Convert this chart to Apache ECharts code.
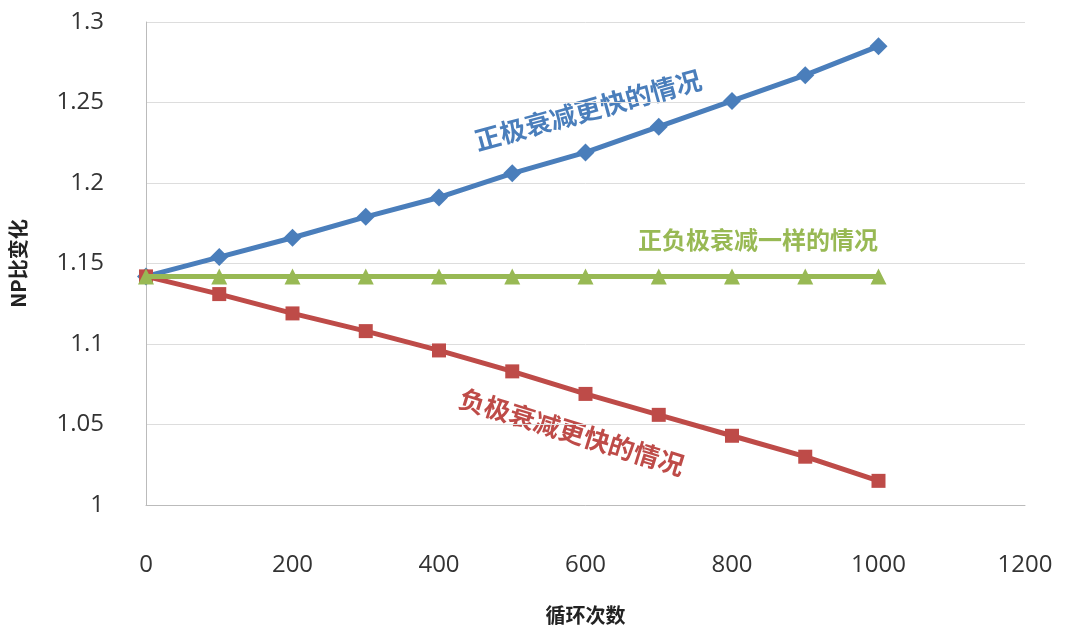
<!DOCTYPE html>
<html><head><meta charset="utf-8">
<script src="https://cdn.jsdelivr.net/npm/echarts@6/dist/echarts.min.js"></script>
<style>html,body{margin:0;background:#fff}#c{width:1080px;height:637px}</style>
</head><body><div id="c"></div>
<script>
var cycles = [0, 100, 200, 300, 400, 500, 600, 700, 800, 900, 1000];
var positiveFaster = [1.142, 1.154, 1.166, 1.179, 1.191, 1.206, 1.219, 1.235, 1.251, 1.267, 1.285];
var equalFade = [1.142, 1.142, 1.142, 1.142, 1.142, 1.142, 1.142, 1.142, 1.142, 1.142, 1.142];
var negativeFaster = [1.142, 1.131, 1.119, 1.108, 1.096, 1.083, 1.069, 1.056, 1.043, 1.030, 1.015];

function pairs(v) { return cycles.map(function (c, i) { return [c, v[i]]; }); }

var font = '"Noto Sans CJK SC", "Open Sans", sans-serif';
var chart = echarts.init(document.getElementById('c'), null, {renderer: 'canvas'});
chart.setOption({
  animation: false,
  textStyle: {fontFamily: font},
  grid: {left: 143, right: 55, top: 22, bottom: 132},
  xAxis: {
    type: 'value', min: 0, max: 1200, interval: 200,
    name: '循环次数', nameLocation: 'middle', nameGap: 100,
    nameTextStyle: {fontSize: 20, fontWeight: 'bold', color: '#222'},
    axisLine: {show: true, lineStyle: {color: '#bbb'}},
    axisTick: {show: false},
    splitLine: {show: false},
    axisLabel: {fontSize: 24, color: '#333', margin: 48, fontFamily: 'Open Sans',
      formatter: function (v) { return String(v); }}
  },
  yAxis: {
    type: 'value', min: 1, max: 1.3, interval: 0.05,
    name: 'NP比变化', nameLocation: 'middle', nameGap: 118,
    nameTextStyle: {fontSize: 20, fontWeight: 'bold', color: '#222'},
    axisLine: {show: true, lineStyle: {color: '#bbb'}},
    axisTick: {show: false},
    splitLine: {lineStyle: {color: '#ddd'}},
    axisLabel: {fontSize: 24, color: '#333', margin: 42, fontFamily: 'Open Sans',
      formatter: function (v) { return String(+v.toFixed(2)); }}
  },
  series: [
    {type: 'line', data: pairs(positiveFaster), symbol: 'diamond', symbolSize: 18,
      lineStyle: {width: 5, color: '#4a7ebb'}, itemStyle: {color: '#4a7ebb'}, z: 3},
    {type: 'line', data: pairs(equalFade), symbol: 'triangle', symbolSize: 16,
      lineStyle: {width: 5, color: '#98b954'}, itemStyle: {color: '#98b954'}, z: 4},
    {type: 'line', data: pairs(negativeFaster), symbol: 'rect', symbolSize: 14,
      lineStyle: {width: 5, color: '#be4b48'}, itemStyle: {color: '#be4b48'}, z: 3}
  ],
  graphic: [
    {type: 'text', x: 588, y: 110, rotation: 0.27,
      style: {text: '正极衰减更快的情况', fill: '#4a7ebb', font: 'bold 26px ' + font, align: 'center', verticalAlign: 'middle'}},
    {type: 'text', x: 758, y: 240,
      style: {text: '正负极衰减一样的情况', fill: '#98b954', font: 'bold 24px ' + font, align: 'center', verticalAlign: 'middle'}},
    {type: 'text', x: 572, y: 432, rotation: -0.3,
      style: {text: '负极衰减更快的情况', fill: '#be4b48', font: 'bold 26px ' + font, align: 'center', verticalAlign: 'middle'}}
  ]
});
</script></body></html>
